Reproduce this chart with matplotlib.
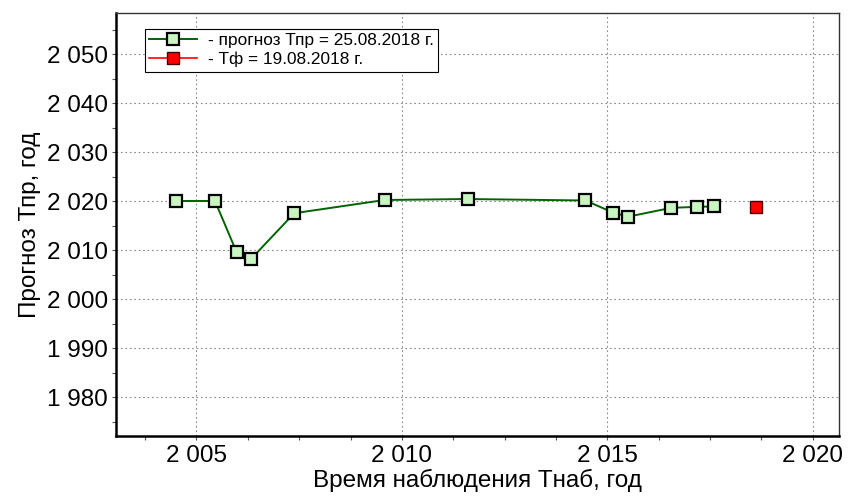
import matplotlib
matplotlib.use("Agg")
import matplotlib.pyplot as plt
from matplotlib.ticker import MultipleLocator, FuncFormatter

plt.rcParams['font.family'] = ['Liberation Sans', 'DejaVu Sans']

# observation time (years) and forecast year
t_obs = [2004.51, 2005.45, 2005.98, 2006.32, 2007.38, 2009.58, 2011.60,
         2014.47, 2015.15, 2015.51, 2016.56, 2017.18, 2017.61]
t_forecast = [2020.1, 2020.1, 2009.6, 2008.2, 2017.6, 2020.3, 2020.5,
              2020.2, 2017.7, 2016.9, 2018.7, 2018.9, 2019.0]
t_fact_x = [2018.63]
t_fact_y = [2018.8]

label_forecast = "- прогноз Тпр = 25.08.2018 г."
label_fact = "- Тф = 19.08.2018 г."


def thousands(v, pos):
    return f"{int(round(v)):,}".replace(",", " ")


fig = plt.figure(figsize=(8.49, 4.99), dpi=100)
ax = fig.add_axes([0.1366, 0.1269, 0.852, 0.8464])

ax.plot(t_obs, t_forecast, color="#006400", lw=1.4, marker="s", ms=8,
        mfc="#c8f5c0", mec="black", mew=1.6, label=label_forecast, zorder=3)
ax.plot(t_fact_x, t_fact_y, color="red", lw=1.2, marker="s", ms=8,
        mfc="red", mec="#400000", mew=1.0, linestyle="none", zorder=3)
# legend handle for the red entry shows a line through the marker
ax.plot([], [], color="red", lw=1.2, marker="s", ms=8,
        mfc="red", mec="#400000", mew=1.0, label=label_fact)

ax.set_xlim(2003.04, 2020.65)
ax.set_ylim(1972.2, 2058.4)

ax.xaxis.set_major_locator(MultipleLocator(5))
ax.xaxis.set_minor_locator(MultipleLocator(1.25))
ax.yaxis.set_major_locator(MultipleLocator(10))
ax.yaxis.set_minor_locator(MultipleLocator(5))
ax.xaxis.set_major_formatter(FuncFormatter(thousands))
ax.yaxis.set_major_formatter(FuncFormatter(thousands))

ax.tick_params(which="both", direction="out", length=3, width=0.8,
               labelsize=17.5, color="#555555")
ax.tick_params(axis="x", pad=4)
ax.tick_params(axis="y", pad=3)

ax.grid(True, which="major", linestyle=(0, (1.5, 2.5)), color="#888888", lw=0.8)

for side in ("left", "bottom"):
    ax.spines[side].set_linewidth(1.8)
    ax.spines[side].set_color("black")
for side in ("top", "right"):
    ax.spines[side].set_linewidth(1.0)
    ax.spines[side].set_color("#333333")

ax.set_xlabel("Время наблюдения Тнаб, год", fontsize=17.5, labelpad=1)
ax.set_ylabel("Прогноз Тпр, год", fontsize=17.5, labelpad=4)

leg = ax.legend(loc="upper left", bbox_to_anchor=(0.04, 0.963), fontsize=12.4,
                frameon=True, fancybox=False, edgecolor="black", framealpha=1,
                handlelength=2.8, borderpad=0.25, labelspacing=0.2,
                handletextpad=0.6, borderaxespad=0)
leg.get_frame().set_linewidth(0.8)

fig.savefig("out.png", dpi=100)
